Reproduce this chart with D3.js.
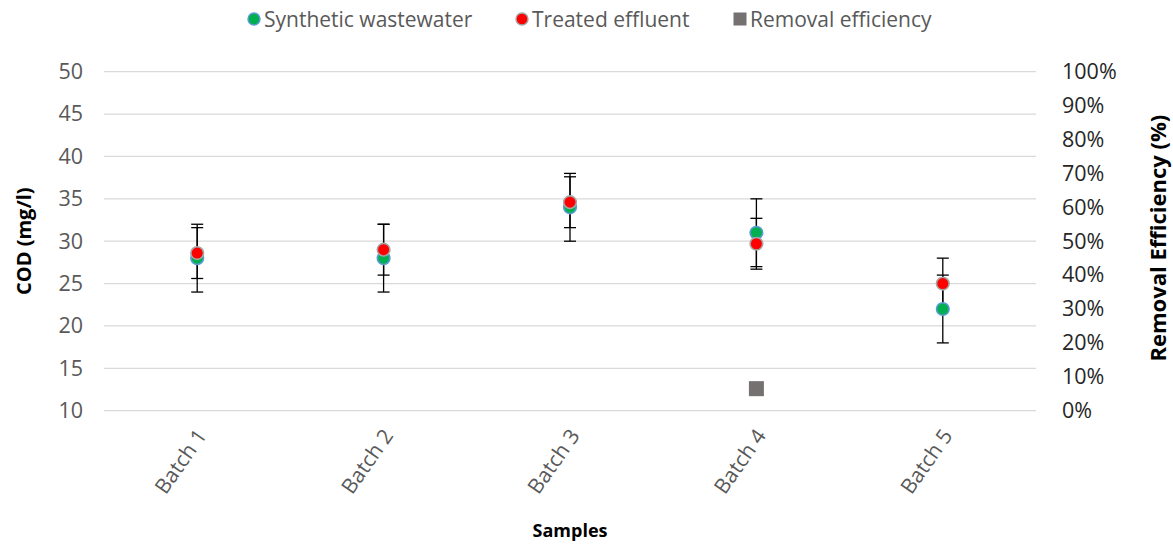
<!DOCTYPE html>
<html>
<head>
<meta charset="utf-8">
<script src="https://cdn.jsdelivr.net/npm/d3@7"></script>
<style>
  body { margin: 0; background: #fff; }
  text { font-family: "Open Sans", sans-serif; }
</style>
</head>
<body>
<svg id="chart" width="1173" height="544"></svg>
<script>
// COD per batch (mg/l) with standard deviations, and removal efficiency
const categories = ["Batch 1", "Batch 2", "Batch 3", "Batch 4", "Batch 5"];
const syntheticCOD = [28, 28, 34, 31, 22];
const syntheticErr = [4, 4, 4, 4, 4];
const treatedCOD = [28.6, 29, 34.6, 29.7, 25];
const treatedErr = [3, 3, 3, 3, 3];
const removalEff = [null, null, null, 0.065, null];
const codTicks = [10, 15, 20, 25, 30, 35, 40, 45, 50];
const pctTicks = [0, 0.1, 0.2, 0.3, 0.4, 0.5, 0.6, 0.7, 0.8, 0.9, 1.0];

const svg = d3.select("#chart");
const plot = { left: 104, right: 1036, top: 71.7, bottom: 410.7 };

const x = d3.scaleBand().domain(categories).range([plot.left, plot.right]).padding(0);
const yL = d3.scaleLinear().domain([10, 50]).range([plot.bottom, plot.top]);
const yR = d3.scaleLinear().domain([0, 1]).range([plot.bottom, plot.top]);
const cx = c => x(c) + x.bandwidth() / 2;

// horizontal gridlines
svg.append("g").selectAll("line").data(codTicks).join("line")
  .attr("x1", plot.left).attr("x2", plot.right)
  .attr("y1", d => yL(d)).attr("y2", d => yL(d))
  .attr("stroke", "#d9d9d9").attr("stroke-width", 1.3);

// left axis
const leftAxis = svg.append("g").attr("transform", `translate(${plot.left},0)`)
  .call(d3.axisLeft(yL).tickValues(codTicks).tickSize(0).tickPadding(21));
leftAxis.select(".domain").remove();
leftAxis.selectAll("text").attr("font-size", 21.5).attr("fill", "#595959")
  .style("font-family", "'Open Sans', sans-serif");

// right axis
const rightAxis = svg.append("g").attr("transform", `translate(${plot.right},0)`)
  .call(d3.axisRight(yR).tickValues(pctTicks).tickFormat(d3.format(".0%")).tickSize(0).tickPadding(26));
rightAxis.select(".domain").remove();
rightAxis.selectAll("text").attr("font-size", 21.5).attr("fill", "#262626")
  .style("font-family", "'Open Sans', sans-serif");

// category labels
svg.append("g").selectAll("text").data(categories).join("text")
  .attr("transform", d => `translate(${cx(d) + 4},431) rotate(-55)`)
  .attr("text-anchor", "end").attr("dominant-baseline", "central")
  .attr("font-size", 21).attr("fill", "#595959").text(d => d);

// error bars
function errorBars(values, errs) {
  const g = svg.append("g").attr("stroke", "#000").attr("stroke-width", 1.3);
  categories.forEach((c, i) => {
    const lo = yL(values[i] - errs[i]), hi = yL(values[i] + errs[i]), px = cx(c);
    g.append("line").attr("x1", px).attr("x2", px).attr("y1", lo).attr("y2", hi);
    g.append("line").attr("x1", px - 6).attr("x2", px + 6).attr("y1", lo).attr("y2", lo);
    g.append("line").attr("x1", px - 6).attr("x2", px + 6).attr("y1", hi).attr("y2", hi);
  });
}
errorBars(syntheticCOD, syntheticErr);
errorBars(treatedCOD, treatedErr);

// removal efficiency markers
svg.append("g").selectAll("rect")
  .data(categories.map((c, i) => ({ c, v: removalEff[i] })).filter(d => d.v !== null && d.v >= 0 && d.v <= 1))
  .join("rect")
  .attr("x", d => cx(d.c) - 7.5).attr("y", d => yR(d.v) - 7.5)
  .attr("width", 15).attr("height", 15).attr("fill", "#767171");

// COD markers
svg.append("g").selectAll("circle").data(categories).join("circle")
  .attr("cx", d => cx(d)).attr("cy", (d, i) => yL(syntheticCOD[i])).attr("r", 6.3)
  .attr("fill", "#00b050").attr("stroke", "#5b9bd5").attr("stroke-width", 1.6);
svg.append("g").selectAll("circle").data(categories).join("circle")
  .attr("cx", d => cx(d)).attr("cy", (d, i) => yL(treatedCOD[i])).attr("r", 6.3)
  .attr("fill", "#ff0000").attr("stroke", "#a5a5a5").attr("stroke-width", 1.6);

// axis titles
svg.append("text").attr("transform", `translate(23,${(plot.top + plot.bottom) / 2}) rotate(-90)`)
  .attr("text-anchor", "middle").attr("dominant-baseline", "central")
  .attr("font-size", 20).attr("font-weight", "bold").attr("fill", "#000").text("COD (mg/l)");
svg.append("text").attr("transform", `translate(1157,${(plot.top + plot.bottom) / 2 - 3}) rotate(-90)`)
  .attr("text-anchor", "middle").attr("dominant-baseline", "central")
  .attr("font-size", 22).attr("font-weight", "bold").attr("fill", "#000").text("Removal Efficiency (%)");
svg.append("text").attr("x", (plot.left + plot.right) / 2).attr("y", 530)
  .attr("text-anchor", "middle").attr("dominant-baseline", "central")
  .attr("font-size", 18).attr("font-weight", "bold").attr("fill", "#000").text("Samples");

// legend
const legend = svg.append("g");
const legendItems = [
  { label: "Synthetic wastewater", x: 254, shape: "circle", fill: "#00b050", stroke: "#5b9bd5" },
  { label: "Treated effluent", x: 522, shape: "circle", fill: "#ff0000", stroke: "#a5a5a5" },
  { label: "Removal efficiency", x: 740, shape: "rect", fill: "#767171" }
];
legendItems.forEach(it => {
  if (it.shape === "circle") {
    legend.append("circle").attr("cx", it.x).attr("cy", 19).attr("r", 6)
      .attr("fill", it.fill).attr("stroke", it.stroke).attr("stroke-width", 1.4);
  } else {
    legend.append("rect").attr("x", it.x - 6.5).attr("y", 12.5).attr("width", 13).attr("height", 13).attr("fill", it.fill);
  }
  legend.append("text").attr("x", it.x + 10).attr("y", 19).attr("dominant-baseline", "central")
    .attr("font-size", 21).attr("fill", "#595959").text(it.label);
});
</script>
</body>
</html>
